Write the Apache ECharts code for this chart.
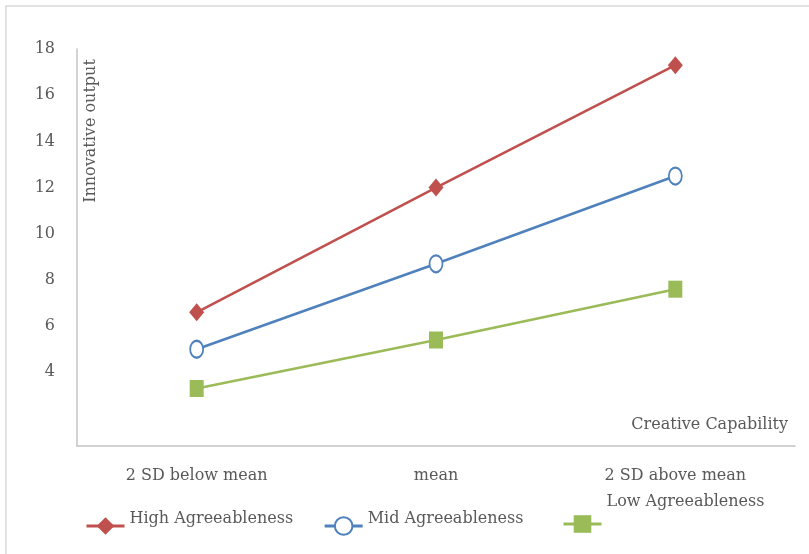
<!DOCTYPE html>
<html>
<head>
<meta charset="utf-8">
<title>Innovative output by Creative Capability</title>
<script src="https://cdn.jsdelivr.net/npm/echarts@6/dist/echarts.min.js"></script>
<style>
  html, body { margin: 0; padding: 0; background: #ffffff; }
  #chart { width: 809px; height: 554px; }
</style>
</head>
<body>
<div id="chart"></div>
<script>
// Creative Capability levels on the x axis
const categories = ['2 SD below mean', 'mean', '2 SD above mean'];

// Innovative output per agreeableness level
const highAgreeableness = [6.6, 12.0, 17.3];
const midAgreeableness = [5.0, 8.7, 12.5];
const lowAgreeableness = [3.3, 5.4, 7.6];

// Labelled ticks on the value axis
const yTickLabels = [4, 6, 8, 10, 12, 14, 16, 18];

const seriesNames = ['High Agreeableness', 'Mid Agreeableness', 'Low Agreeableness'];

const textColor = '#595959';
const fontFamily = '"DejaVu Serif", "Liberation Serif", serif';
const axisColor = '#c4c4c4';
const NBSP = '\u00a0';

const chart = echarts.init(document.getElementById('chart'), null, { renderer: 'canvas' });

const legendText = {
  color: textColor,
  fontFamily: fontFamily,
  fontSize: 16
};

const option = {
  backgroundColor: '#ffffff',
  animation: false,
  textStyle: { fontFamily: fontFamily, color: textColor },
  graphic: [
    {
      // frame around the figure (open on the right and bottom edges)
      type: 'rect',
      x: 6,
      y: 6,
      shape: { x: 0, y: 0, width: 1000, height: 800 },
      style: { fill: 'none', stroke: '#d9d9d9', lineWidth: 1.5 },
      silent: true
    },
    {
      type: 'text',
      x: 91,
      y: 131,
      rotation: Math.PI / 2,
      style: {
        text: 'Innovative output',
        fill: textColor,
        font: '16px ' + fontFamily,
        align: 'center',
        verticalAlign: 'middle'
      },
      silent: true
    }
  ],
  grid: {
    left: 77,
    right: 14,
    top: 49,
    bottom: 108,
    containLabel: false
  },
  xAxis: {
    type: 'category',
    data: categories,
    boundaryGap: true,
    name: 'Creative Capability',
    nameLocation: 'end',
    nameGap: -7,
    nameTextStyle: {
      color: textColor,
      fontFamily: fontFamily,
      fontSize: 16,
      align: 'right',
      verticalAlign: 'bottom',
      padding: [0, 0, 13, 0]
    },
    axisLine: { show: true, lineStyle: { color: axisColor, width: 1.5 } },
    axisTick: { show: false },
    axisLabel: {
      color: textColor,
      fontFamily: fontFamily,
      fontSize: 16,
      margin: 22,
      interval: 0
    },
    splitLine: { show: false }
  },
  yAxis: {
    type: 'value',
    min: 0.81,
    max: 18,
    axisLine: { show: true, lineStyle: { color: axisColor, width: 1.5 } },
    axisTick: { show: false },
    splitLine: { show: false },
    axisLabel: {
      customValues: yTickLabels,
      color: textColor,
      fontFamily: fontFamily,
      fontSize: 16,
      margin: 22
    }
  },
  legend: [
    {
      data: [seriesNames[0], seriesNames[1]],
      orient: 'horizontal',
      left: 85,
      top: 511,
      padding: 0,
      itemGap: 30,
      itemWidth: 38,
      itemHeight: 22,
      lineStyle: { width: 3 },
      // second blank line lifts the label slightly above the icon
      formatter: function (name) { return name + '\n' + NBSP; },
      textStyle: Object.assign({ lineHeight: 14 }, legendText)
    },
    {
      data: [seriesNames[2]],
      orient: 'horizontal',
      left: 562,
      top: 491,
      padding: 0,
      itemWidth: 38,
      itemHeight: 22,
      lineStyle: { width: 3 },
      // label sits one line above its icon
      formatter: function (name) { return name + '\n' + NBSP + '\n' + NBSP; },
      textStyle: Object.assign({ lineHeight: 22 }, legendText)
    }
  ],
  series: [
    {
      name: seriesNames[0],
      type: 'line',
      data: highAgreeableness,
      symbol: 'diamond',
      symbolSize: [15, 18],
      color: '#C0504D',
      lineStyle: { color: '#C0504D', width: 2.5 },
      itemStyle: { color: '#C0504D' }
    },
    {
      name: seriesNames[1],
      type: 'line',
      data: midAgreeableness,
      symbol: 'emptyCircle',
      symbolSize: [13, 17],
      color: '#4F81BD',
      lineStyle: { color: '#4F81BD', width: 2.5 },
      itemStyle: { color: '#4F81BD', borderColor: '#4F81BD', borderWidth: 2.5 }
    },
    {
      name: seriesNames[2],
      type: 'line',
      data: lowAgreeableness,
      symbol: 'rect',
      symbolSize: [14, 17],
      color: '#9BBB59',
      lineStyle: { color: '#9BBB59', width: 2.5 },
      itemStyle: { color: '#9BBB59' }
    }
  ]
};

chart.setOption(option);
</script>
</body>
</html>
